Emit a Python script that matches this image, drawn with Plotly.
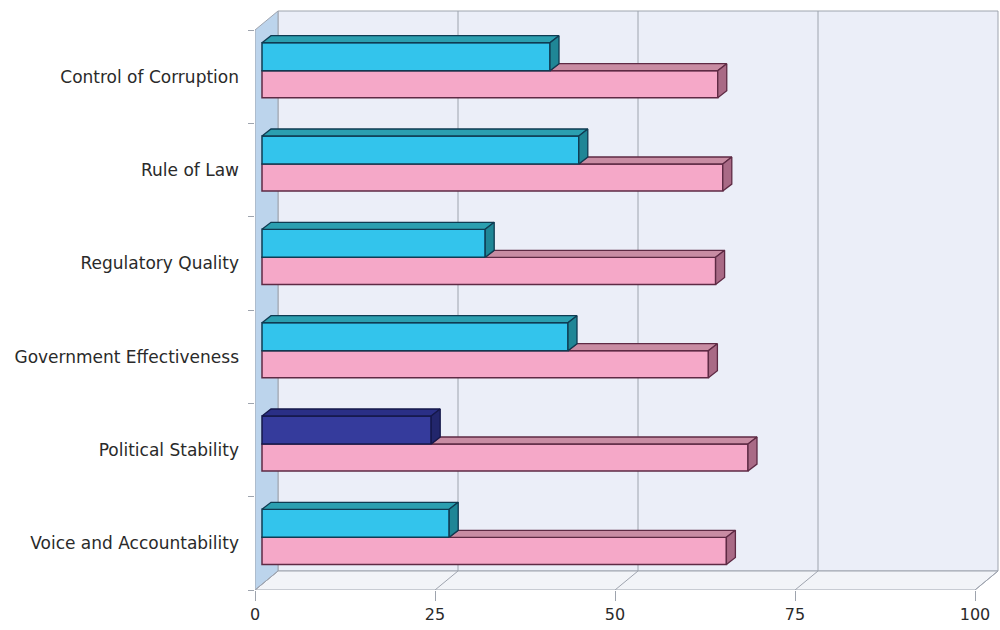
import plotly.graph_objects as go

# ---------------- data ----------------
categories = ["Voice and Accountability", "Political Stability", "Government Effectiveness",
              "Regulatory Quality", "Rule of Law", "Control of Corruption"]
series_blue = [26, 23.5, 42.5, 31, 44, 40]
series_pink = [64.5, 67.5, 62, 63, 64, 63.3]
blue_front = ["#33c4ec", "#353b9c", "#33c4ec", "#33c4ec", "#33c4ec", "#33c4ec"]
blue_top = ["#2b9fb0", "#2a2f86", "#2b9fb0", "#2b9fb0", "#2b9fb0", "#2b9fb0"]
blue_side = ["#1f8696", "#22266c", "#1f8696", "#1f8696", "#1f8696", "#1f8696"]
blue_edge = ["#0f3b52", "#15184a", "#0f3b52", "#0f3b52", "#0f3b52", "#0f3b52"]
x_ticks = [0, 25, 50, 75, 100]

# ---------------- geometry (pixel based) ----------------
W, H = 1000, 630
ML, MR, MT, MB = 255, 0, 0, 40
PX_PER_X = 7.2                     # pixels per value unit
PX_PER_Y = 560 / 6                 # pixels per category
xr = [0, (W - ML - MR) / PX_PER_X]
yr = [-0.5, -0.5 + (H - MT - MB) / PX_PER_Y]

DEPTH_X = 23 / PX_PER_X            # back wall offset
DEPTH_Y = 19 / PX_PER_Y
BAR_X = 7 / PX_PER_X               # bar plane offset
BAR_Y = 6 / PX_PER_Y
D_X = 9 / PX_PER_X                 # bar depth
D_Y = 7 / PX_PER_Y
BW = 0.3                           # bar thickness

n = len(categories)
ys = list(range(n))

fig = go.Figure()

# front faces (bars)
fig.add_trace(go.Bar(
    y=ys, x=series_pink, orientation="h", width=0.29, offset=-0.29,
    marker=dict(color="#f5a8c8", line=dict(color="#5e2a44", width=1.5)),
    xaxis="x2", yaxis="y2", hoverinfo="skip", showlegend=False))
fig.add_trace(go.Bar(
    y=ys, x=series_blue, orientation="h", width=BW, offset=0,
    marker=dict(color=blue_front, line=dict(color=blue_edge, width=1.5)),
    xaxis="x2", yaxis="y2", hoverinfo="skip", showlegend=False))


def poly(xs, ys_, fill, line):
    fig.add_trace(go.Scatter(
        x=xs + [xs[0]], y=ys_ + [ys_[0]], fill="toself", mode="lines",
        fillcolor=fill, line=dict(color=line, width=1.3),
        xaxis="x2", yaxis="y2", hoverinfo="skip", showlegend=False))


for i in range(n):
    ub, up = series_blue[i], series_pink[i]
    # pink: visible part of top face, and side face
    poly([ub, up, up + D_X, ub + D_X], [i, i, i + D_Y, i + D_Y], "#c88ca3", "#5e2a44")
    poly([up, up, up + D_X, up + D_X], [i - 0.29, i, i + D_Y, i - 0.29 + D_Y], "#a96a86", "#5e2a44")
    # blue: top and side
    poly([0, ub, ub + D_X, D_X], [i + BW, i + BW, i + BW + D_Y, i + BW + D_Y], blue_top[i], blue_edge[i])
    poly([ub, ub, ub + D_X, ub + D_X], [i, i + BW, i + BW + D_Y, i + D_Y], blue_side[i], blue_edge[i])

# ---------------- walls (decoration) ----------------
shapes = []
grid = "#9ea4ae"
y0f, y1f = -0.5, n - 0.5
y0b, y1b = y0f + DEPTH_Y, y1f + DEPTH_Y
# back wall
shapes.append(dict(type="rect", xref="x", yref="y", x0=DEPTH_X, x1=100 + DEPTH_X, y0=y0b, y1=y1b,
                   fillcolor="#ebeef8", line=dict(color=grid, width=1), layer="below"))
# floor
shapes.append(dict(type="path", xref="x", yref="y",
                   path=f"M 0 {y0f} L {DEPTH_X} {y0b} L {100 + DEPTH_X} {y0b} L 100 {y0f} Z",
                   fillcolor="#f2f4f8", line=dict(color=grid, width=1), layer="below"))
# left wall
shapes.append(dict(type="path", xref="x", yref="y",
                   path=f"M 0 {y0f} L 0 {y1f} L {DEPTH_X} {y1b} L {DEPTH_X} {y0b} Z",
                   fillcolor="#bcd4ec", line=dict(color=grid, width=1), layer="below"))
for v in x_ticks[1:-1]:
    shapes.append(dict(type="line", xref="x", yref="y", x0=v + DEPTH_X, x1=v + DEPTH_X,
                       y0=y0b, y1=y1b, line=dict(color=grid, width=1), layer="below"))
for v in x_ticks:
    shapes.append(dict(type="line", xref="x", yref="y", x0=v, x1=v + DEPTH_X,
                       y0=y0f, y1=y0b, line=dict(color=grid, width=1), layer="below"))

fig.update_layout(
    width=W, height=H, margin=dict(l=ML, r=MR, t=MT, b=MB),
    paper_bgcolor="white", plot_bgcolor="white",
    font=dict(family="DejaVu Sans", size=17, color="#2a2a2a"),
    barmode="overlay", showlegend=False, shapes=shapes,
    xaxis=dict(range=xr, tickvals=x_ticks, ticktext=[str(v) for v in x_ticks],
               ticks="outside", ticklen=10, tickcolor=grid, showgrid=False, zeroline=False,
               showline=False, tickfont=dict(size=16), fixedrange=True),
    yaxis=dict(range=yr, tickvals=ys, ticktext=categories, ticks="", ticklabelstandoff=15,
               showgrid=False, zeroline=False, showline=False, fixedrange=True,
               tickfont=dict(size=17),
               minor=dict(tickvals=[k - 0.5 for k in range(n + 1)], ticks="outside",
                          ticklen=6, tickcolor=grid, showgrid=False)),
    xaxis2=dict(overlaying="x", anchor="y2", range=[xr[0] - BAR_X, xr[1] - BAR_X], visible=False,
                fixedrange=True),
    yaxis2=dict(overlaying="y", anchor="x2", range=[yr[0] - BAR_Y, yr[1] - BAR_Y], visible=False,
                fixedrange=True),
)

fig.write_html("out.html")
